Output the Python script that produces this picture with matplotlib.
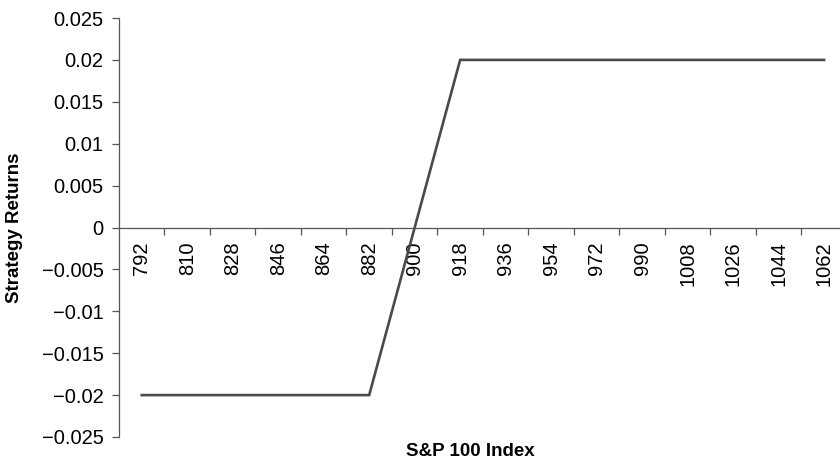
import matplotlib
matplotlib.use("Agg")
import matplotlib.pyplot as plt
import numpy as np
from matplotlib.ticker import FixedLocator, FuncFormatter

plt.rcParams["font.family"] = ["Liberation Sans", "DejaVu Sans"]

index_levels = [792, 810, 828, 846, 864, 882, 900, 918, 936, 954, 972, 990,
                1008, 1026, 1044, 1062]
strategy_returns = [-0.02, -0.02, -0.02, -0.02, -0.02, -0.02, 0.0, 0.02,
                    0.02, 0.02, 0.02, 0.02, 0.02, 0.02, 0.02, 0.02]
y_ticks = [-0.025, -0.02, -0.015, -0.01, -0.005, 0, 0.005, 0.01, 0.015, 0.02, 0.025]

fig = plt.figure(figsize=(8.4, 4.68), dpi=100)
ax = fig.add_axes([119 / 840, 1 - 437 / 468, 1 - 119 / 840, (437 - 18) / 468])

pos = np.arange(len(index_levels))
ax.plot(pos, strategy_returns, color="#4a4a4a", lw=1.9, solid_joinstyle="miter")

ax.set_xlim(-0.5, 15.35)
ax.set_ylim(-0.025, 0.025)

for s in ["top", "right"]:
    ax.spines[s].set_visible(False)
ax.spines["bottom"].set_position(("data", 0))
ax.spines["left"].set_color("#555555")
ax.spines["bottom"].set_color("#555555")
ax.spines["left"].set_linewidth(0.9)
ax.spines["bottom"].set_linewidth(0.9)

# category boundaries get the tick marks, centres get the labels
ax.xaxis.set_major_locator(FixedLocator(np.arange(0.5, 15.5, 1.0)))
ax.xaxis.set_major_formatter(FuncFormatter(lambda v, p: ""))
ax.xaxis.set_minor_locator(FixedLocator(pos))
ax.set_xticklabels([str(v) for v in index_levels], minor=True, rotation=90,
                   fontsize=14.5, va="top")
ax.tick_params(axis="x", which="major", direction="out", length=5, width=0.9,
               color="#555555")
ax.tick_params(axis="x", which="minor", length=0, pad=10)

ax.set_yticks(y_ticks)
ax.yaxis.set_major_formatter(
    FuncFormatter(lambda v, p: "0" if abs(v) < 1e-12 else ("%g" % v).replace("-", "\u2212")))
ax.tick_params(axis="y", direction="out", length=5, width=0.9, color="#555555",
               labelsize=14.5, pad=6)

fig.text(15 / 840, 1 - 228 / 468, "Strategy Returns", rotation=90, fontsize=13.5,
         fontweight="bold", ha="center", va="center")
fig.text(470 / 840, 1 - 452 / 468, "S&P 100 Index", fontsize=13.5,
         fontweight="bold", ha="center", va="center")

fig.savefig("out.png", dpi=100)
